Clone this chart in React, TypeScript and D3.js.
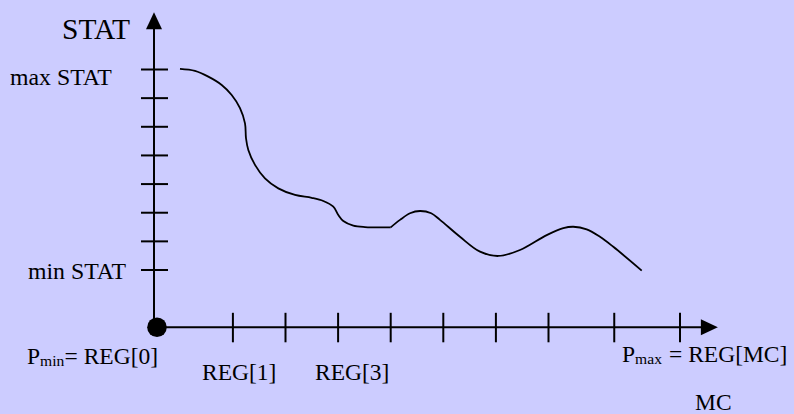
import React from "react";
import * as d3 from "d3";

// ---- data ----
const yTickValues = [2, 3, 4, 5, 6, 7, 8, 9];
const xTickValues = [1.5, 2.5, 3.5, 4.5, 5.5, 6.5, 7.5, 8.75, 10];

// curve, first piece (arcs down to the plateau)
const curveAX = [0.494, 0.779, 1.032, 1.287, 1.477, 1.635, 1.73, 1.749, 1.793, 1.92, 2.11, 2.363, 2.681, 2.998, 3.219, 3.409, 3.504, 3.599, 3.789, 4.011, 4.5];
const curveAY = [9.02, 8.95, 8.75, 8.46, 8.11, 7.65, 7.12, 6.6, 6.19, 5.67, 5.2, 4.85, 4.62, 4.52, 4.41, 4.21, 3.92, 3.71, 3.55, 3.5, 3.49];
// curve, second piece (waves)
const curveBX = [4.5, 4.677, 4.867, 5.057, 5.27, 5.437, 5.817, 6.198, 6.546, 6.958, 7.466, 7.781, 7.971, 8.226, 8.479, 8.732, 9.272];
const curveBY = [3.49, 3.75, 3.98, 4.06, 3.98, 3.75, 3.16, 2.64, 2.49, 2.7, 3.22, 3.46, 3.51, 3.42, 3.16, 2.81, 1.98];

const W = 794;
const H = 414;
const FONT = "'Liberation Serif', 'Times New Roman', Times, serif";

export default function App() {
  const x = d3.scaleLinear().domain([0, 10]).range([154, 680]);
  const y = d3.scaleLinear().domain([0, 9]).range([327.3, 69.5]);

  const line = d3
    .line<[number, number]>()
    .x((d) => x(d[0]))
    .y((d) => y(d[1]))
    .curve(d3.curveCatmullRom.alpha(0.5));

  const ptsA: [number, number][] = curveAX.map((v, i) => [v, curveAY[i]]);
  const ptsB: [number, number][] = curveBX.map((v, i) => [v, curveBY[i]]);

  const x0 = x(0);
  const y0 = y(0);
  const yTop = y(11);
  const xEnd = x(10.72);

  return (
    <svg
      width={W}
      height={H}
      style={{ position: "absolute", left: 0, top: 0, display: "block" }}
      fontFamily={FONT}
    >
      <rect x={0} y={0} width={W} height={H} fill="#CCCCFF" />

      {/* y axis */}
      <line x1={x0} y1={y0} x2={x0} y2={yTop + 16} stroke="#000" strokeWidth={2} />
      <path d={`M${x0},${yTop} L${x0 - 8},${yTop + 17} L${x0 + 8},${yTop + 17} Z`} fill="#000" />
      {yTickValues.map((v) => (
        <line key={v} x1={x0 - 13} x2={x0 + 14} y1={y(v)} y2={y(v)} stroke="#000" strokeWidth={2} />
      ))}

      {/* x axis */}
      <line x1={x0} y1={y0} x2={xEnd - 16} y2={y0} stroke="#000" strokeWidth={2} />
      <path d={`M${xEnd},${y0} L${xEnd - 17},${y0 - 8} L${xEnd - 17},${y0 + 8} Z`} fill="#000" />
      {xTickValues.map((v) => (
        <line key={v} x1={x(v)} x2={x(v)} y1={y0 - 14.5} y2={y0 + 15} stroke="#000" strokeWidth={2} />
      ))}

      {/* origin dot */}
      <circle cx={x0 + 3} cy={y0} r={9.8} fill="#000" />

      {/* curve */}
      <path d={line(ptsA) || ""} fill="none" stroke="#000" strokeWidth={1.8} />
      <path d={line(ptsB) || ""} fill="none" stroke="#000" strokeWidth={1.8} />

      {/* labels */}
      <text x={62} y={38.5} fontSize={29.5} fill="#000">STAT</text>
      <text x={10} y={85} fontSize={23.8} fill="#000">max STAT</text>
      <text x={28} y={278.5} fontSize={23.8} fill="#000">min STAT</text>
      <text x={27} y={364} fontSize={23.5} fill="#000">
        P
        <tspan fontSize={15.6} dy={2}>min</tspan>
        <tspan x={64.5} dy={-2}>= REG[0]</tspan>
      </text>
      <text x={202} y={380} fontSize={23.5} fill="#000">REG[1]</text>
      <text x={315} y={380} fontSize={23.5} fill="#000">REG[3]</text>
      <text x={622} y={362} fontSize={23.5} fill="#000">
        P
        <tspan fontSize={15.6} dy={2}>max</tspan>
        <tspan x={669} dy={-2}>= REG[MC]</tspan>
      </text>
      <text x={695} y={410} fontSize={23.5} fill="#000">MC</text>
    </svg>
  );
}
